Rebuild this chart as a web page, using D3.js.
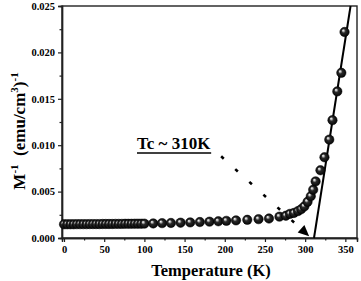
<!DOCTYPE html>
<html>
<head>
<meta charset="utf-8">
<script src="https://cdn.jsdelivr.net/npm/d3@7"></script>
<style>
  body { margin: 0; background: #fff; }
  text { font-family: "Liberation Serif", "Times New Roman", serif; font-weight: bold; fill: #000; }
</style>
</head>
<body>
<div class="interactive-wrapper"></div>
<script>
// temperature (K) and inverse magnetisation (emu/cm3)^-1
const temps = [0, 4, 8, 12, 16, 20, 24, 28, 32, 36, 40, 44, 48, 52, 56, 60, 64, 68, 72, 76, 80, 84, 88, 92, 96, 100,
  111, 122, 133, 145, 157, 169, 181, 192, 202, 214, 228, 242, 255, 268,
  276, 281, 286, 291, 295, 299, 303, 307, 310, 313, 319, 324, 330, 334, 340, 345, 349];
const invM = [0.00148, 0.00148, 0.00148, 0.00148, 0.00149, 0.00149, 0.00149, 0.00149, 0.00150, 0.00150, 0.00150,
  0.00150, 0.00151, 0.00151, 0.00151, 0.00151, 0.00152, 0.00152, 0.00152, 0.00153, 0.00153, 0.00153, 0.00154,
  0.00154, 0.00154, 0.00155,
  0.00157, 0.00160, 0.00162, 0.00165, 0.00168, 0.00172, 0.00176, 0.00180, 0.00185, 0.00190, 0.00196, 0.00203, 0.00210, 0.00230,
  0.0024, 0.0026, 0.0027, 0.0029, 0.0031, 0.0034, 0.0039, 0.0045, 0.0052, 0.0061, 0.0073, 0.0087, 0.0106, 0.0127,
  0.0158, 0.0178, 0.0222];

// linear fit of the paramagnetic part
const fitT = [311, 356.5];
const fitV = [0, 0.025];

// annotation arrow (data units)
const arrowT = [195.5, 305];
const arrowV = [0.0088, 0.0002];
const tcLabel = "Tc ~ 310K";

const xTicks = [0, 50, 100, 150, 200, 250, 300, 350];
const xMinor = [25, 75, 125, 175, 225, 275, 325];
const yTicks = [0, 0.005, 0.010, 0.015, 0.020, 0.025];
const yMinor = [0.0025, 0.0075, 0.0125, 0.0175, 0.0225];

const width = 361, height = 281;
const margin = {top: 6, right: 4, bottom: 43, left: 62};

const svg = d3.select('.interactive-wrapper')
  .append('svg')
  .attr('width', width)
  .attr('height', height);

const x = d3.scaleLinear()
  .domain([-2.5, 364.5])
  .range([margin.left, width - margin.right]);

const y = d3.scaleLinear()
  .domain([0, 0.025])
  .range([height - margin.bottom, margin.top]);

const defs = svg.append('defs');
const grad = defs.append('radialGradient')
  .attr('id', 'ball')
  .attr('cx', '50%').attr('cy', '50%').attr('r', '55%')
  .attr('fx', '34%').attr('fy', '32%');
grad.append('stop').attr('offset', '0%').attr('stop-color', '#ffffff');
grad.append('stop').attr('offset', '14%').attr('stop-color', '#c8c8c8');
grad.append('stop').attr('offset', '40%').attr('stop-color', '#2a2a2a');
grad.append('stop').attr('offset', '100%').attr('stop-color', '#000000');

// frame
svg.append('rect')
  .attr('x', x.range()[0])
  .attr('y', y.range()[1])
  .attr('width', x.range()[1] - x.range()[0])
  .attr('height', y.range()[0] - y.range()[1])
  .attr('fill', 'none')
  .attr('stroke', '#222')
  .attr('stroke-width', 1.4);

// axes
svg.append('g')
  .attr('transform', `translate(0,${y.range()[0]})`)
  .call(d3.axisBottom(x).tickValues(xTicks).tickSize(4).tickPadding(4).tickFormat(d3.format('d')));

svg.append('g')
  .attr('transform', `translate(0,${y.range()[0]})`)
  .call(d3.axisBottom(x).tickValues(xMinor).tickSize(2.5).tickFormat(''));

svg.append('g')
  .attr('transform', `translate(${x.range()[0]},0)`)
  .call(d3.axisLeft(y).tickValues(yTicks).tickSize(4).tickPadding(3).tickFormat(d3.format('.3f')));

svg.append('g')
  .attr('transform', `translate(${x.range()[0]},0)`)
  .call(d3.axisLeft(y).tickValues(yMinor).tickSize(2.5).tickFormat(''));

svg.selectAll('.domain').attr('stroke', '#222').attr('stroke-width', 1.4);
svg.selectAll('.tick line').attr('stroke', '#222').attr('stroke-width', 1.2);
svg.selectAll('.tick text')
  .style('font-family', '"Liberation Serif", "Times New Roman", serif')
  .style('font-weight', 'bold')
  .style('font-size', '10.5px')
  .attr('fill', '#000');

// axis titles
svg.append('text')
  .attr('x', 211)
  .attr('y', 276)
  .attr('text-anchor', 'middle')
  .style('font-size', '16.5px')
  .text('Temperature (K)');

const yTitle = svg.append('text')
  .attr('transform', 'translate(25,131) rotate(-90)')
  .attr('text-anchor', 'middle')
  .style('font-size', '17px');
yTitle.append('tspan').text('M');
yTitle.append('tspan').attr('dy', -7).style('font-size', '11px').text('-1');
yTitle.append('tspan').attr('dy', 7).text('\u2002(emu/cm');
yTitle.append('tspan').attr('dy', -7).style('font-size', '11px').text('3');
yTitle.append('tspan').attr('dy', 7).text(')');
yTitle.append('tspan').attr('dy', -7).style('font-size', '11px').text('-1');

// fit line
svg.append('line')
  .attr('x1', x(fitT[0])).attr('y1', y(fitV[0]))
  .attr('x2', x(fitT[1])).attr('y2', y(fitV[1]))
  .attr('stroke', '#000')
  .attr('stroke-width', 2);

// data balls
const data = temps.map((t, i) => ({t: t, v: invM[i]}));
svg.append('g')
  .selectAll('circle')
  .data(data)
  .join('circle')
  .attr('cx', d => x(d.t))
  .attr('cy', d => y(d.v))
  .attr('r', 4.7)
  .attr('fill', 'url(#ball)')
  .attr('stroke', '#000')
  .attr('stroke-width', 0.5);

// annotation
const ax1 = x(arrowT[0]), ay1 = y(arrowV[0]);
const ax2 = x(arrowT[1]), ay2 = y(arrowV[1]);
const ang = Math.atan2(ay2 - ay1, ax2 - ax1);
const headLen = 11;
const bx = ax2 - headLen * Math.cos(ang), by = ay2 - headLen * Math.sin(ang);

svg.append('line')
  .attr('x1', ax1).attr('y1', ay1)
  .attr('x2', bx).attr('y2', by)
  .attr('stroke', '#000')
  .attr('stroke-width', 2.6)
  .attr('stroke-dasharray', '3.5 15.5');

const px = -Math.sin(ang), py = Math.cos(ang);
svg.append('path')
  .attr('d', `M${ax2},${ay2} L${bx + px * 5},${by + py * 5} L${bx - px * 5},${by - py * 5} Z`)
  .attr('fill', '#000');

const label = svg.append('text')
  .attr('x', 137)
  .attr('y', 149)
  .style('font-size', '17px')
  .text(tcLabel);

const bb = label.node().getBBox();
svg.append('line')
  .attr('x1', bb.x).attr('x2', bb.x + bb.width)
  .attr('y1', 153).attr('y2', 153)
  .attr('stroke', '#000')
  .attr('stroke-width', 1.6);
</script>
</body>
</html>
